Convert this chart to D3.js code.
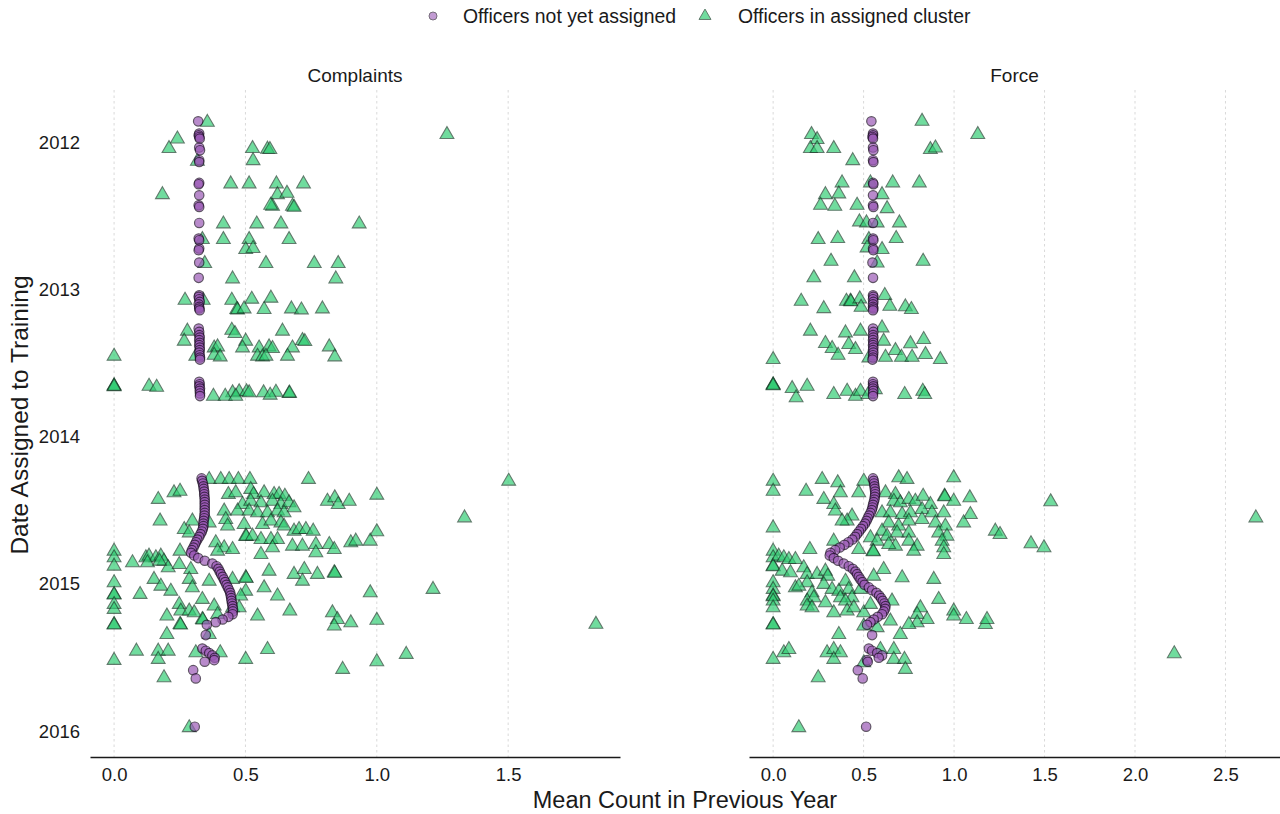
<!DOCTYPE html>
<html>
<head>
<meta charset="utf-8">
<script src="https://cdnjs.cloudflare.com/ajax/libs/d3/7.8.5/d3.min.js"></script>
<style>
  body { margin: 0; background: #ffffff; }
  text { font-family: "Liberation Sans", Arial, Helvetica, sans-serif; fill: #1a1a1a; }
</style>
</head>
<body>
<div id="chart"></div>
<script>
// ---- data ----
const panelNames = ['Complaints', 'Force'];
const yearTicks = [2012, 2013, 2014, 2015, 2016];
const complaintsTicks = [0, 0.5, 1, 1.5];
const forceTicks = [0, 0.5, 1, 1.5, 2, 2.5];
const legendLabels = ['Officers not yet assigned', 'Officers in assigned cluster'];

// dates (decimal years) of the "not yet assigned" means, shared by both panels
const waitingDates = [
  2011.858, 2011.941, 2011.953, 2011.964, 2011.975, 2012.036, 2012.054, 2012.122, 2012.134,
  2012.276, 2012.285, 2012.360, 2012.428, 2012.439, 2012.548, 2012.654, 2012.665, 2012.722,
  2012.733, 2012.817, 2012.921, 2013.039, 2013.050, 2013.066, 2013.084, 2013.100, 2013.118,
  2013.129, 2013.141, 2013.265, 2013.288, 2013.310, 2013.326, 2013.344, 2013.362, 2013.378,
  2013.394, 2013.412, 2013.428, 2013.446, 2013.462, 2013.476, 2013.627, 2013.643, 2013.657,
  2013.673, 2013.688, 2013.706, 2013.724,
  2014.283, 2014.299, 2014.317, 2014.336, 2014.354, 2014.372, 2014.390, 2014.408, 2014.426,
  2014.444, 2014.462, 2014.480, 2014.498, 2014.517, 2014.535, 2014.553, 2014.571, 2014.589,
  2014.607, 2014.625, 2014.643, 2014.661, 2014.679, 2014.698, 2014.716, 2014.734, 2014.752,
  2014.770, 2014.788, 2014.806, 2014.824, 2014.842, 2014.861, 2014.879, 2014.897, 2014.915,
  2014.933, 2014.951, 2014.969, 2014.987, 2015.005, 2015.023, 2015.042, 2015.060, 2015.078,
  2015.096, 2015.114, 2015.132, 2015.150, 2015.168, 2015.186, 2015.205, 2015.223, 2015.241,
  2015.259, 2015.277,
  2015.347, 2015.438, 2015.453, 2015.469, 2015.485, 2015.501, 2015.517, 2015.528, 2015.585,
  2015.641, 2015.969
];

const complaintsWaitingX = [
  0.320, 0.324, 0.322, 0.324, 0.326, 0.324, 0.327, 0.324, 0.324,
  0.324, 0.322, 0.324, 0.322, 0.324, 0.324, 0.322, 0.324, 0.324,
  0.322, 0.324, 0.322, 0.324, 0.322, 0.324, 0.326, 0.322, 0.324,
  0.324, 0.326, 0.322, 0.324, 0.324, 0.326, 0.324, 0.326, 0.324,
  0.326, 0.326, 0.324, 0.326, 0.327, 0.327, 0.324, 0.326, 0.324,
  0.327, 0.326, 0.327, 0.327,
  0.333, 0.335, 0.338, 0.340, 0.341, 0.343, 0.343, 0.344, 0.345,
  0.345, 0.345, 0.345, 0.345, 0.345, 0.344, 0.343, 0.341, 0.340,
  0.340, 0.338, 0.334, 0.329, 0.324, 0.317, 0.312, 0.307, 0.302,
  0.296, 0.293, 0.305, 0.320, 0.345, 0.374, 0.390, 0.397, 0.402,
  0.407, 0.413, 0.418, 0.423, 0.428, 0.433, 0.438, 0.442, 0.444,
  0.446, 0.447, 0.449, 0.451, 0.452, 0.452, 0.451, 0.435, 0.413,
  0.387, 0.353,
  0.349, 0.336, 0.349, 0.362, 0.374, 0.383, 0.381, 0.345, 0.301,
  0.311, 0.307
];

const forceWaitingX = [
  0.543, 0.552, 0.552, 0.549, 0.552, 0.552, 0.554, 0.552, 0.554,
  0.552, 0.554, 0.552, 0.552, 0.554, 0.552, 0.552, 0.554, 0.552,
  0.554, 0.549, 0.552, 0.552, 0.554, 0.552, 0.554, 0.552, 0.552,
  0.554, 0.552, 0.552, 0.554, 0.552, 0.554, 0.552, 0.554, 0.552,
  0.554, 0.552, 0.554, 0.552, 0.552, 0.549, 0.552, 0.552, 0.554,
  0.552, 0.554, 0.552, 0.552,
  0.552, 0.556, 0.558, 0.560, 0.562, 0.564, 0.564, 0.562, 0.560,
  0.556, 0.552, 0.549, 0.545, 0.538, 0.530, 0.523, 0.516, 0.508,
  0.497, 0.486, 0.475, 0.464, 0.453, 0.438, 0.416, 0.394, 0.368,
  0.343, 0.317, 0.313, 0.335, 0.359, 0.390, 0.418, 0.440, 0.455,
  0.464, 0.473, 0.483, 0.494, 0.505, 0.529, 0.547, 0.571, 0.586,
  0.597, 0.606, 0.615, 0.621, 0.619, 0.611, 0.602, 0.578, 0.556,
  0.538, 0.519,
  0.547, 0.529, 0.547, 0.575, 0.602, 0.584, 0.519, 0.523, 0.468,
  0.495, 0.514
];

// officers in assigned cluster: [mean count, date]
const complaintsAssigned = [
  [0.355, 2011.858], [1.267, 2011.941], [0.241, 2011.971],
  [0.209, 2012.036], [0.527, 2012.036], [0.584, 2012.040], [0.593, 2012.043],
  [0.317, 2012.122], [0.529, 2012.118],
  [0.444, 2012.276], [0.514, 2012.276], [0.618, 2012.276], [0.721, 2012.276],
  [0.184, 2012.349], [0.622, 2012.349], [0.658, 2012.340],
  [0.603, 2012.428], [0.679, 2012.428], [0.685, 2012.435], [0.596, 2012.421],
  [0.416, 2012.548], [0.543, 2012.548], [0.635, 2012.548], [0.933, 2012.548],
  [0.336, 2012.654], [0.416, 2012.654], [0.514, 2012.654], [0.666, 2012.654],
  [0.501, 2012.722], [0.529, 2012.715],
  [0.345, 2012.817], [0.578, 2012.817], [0.762, 2012.817], [0.853, 2012.817],
  [0.451, 2012.921], [0.844, 2012.921],
  [0.270, 2013.066], [0.339, 2013.066], [0.448, 2013.066], [0.524, 2013.059], [0.597, 2013.052],
  [0.467, 2013.129], [0.470, 2013.132], [0.495, 2013.125], [0.571, 2013.129], [0.675, 2013.125],
  [0.713, 2013.132], [0.793, 2013.125],
  [0.279, 2013.276], [0.448, 2013.270], [0.641, 2013.276], [0.460, 2013.292],
  [0.267, 2013.344], [0.501, 2013.344], [0.717, 2013.340], [0.726, 2013.347],
  [0.381, 2013.390], [0.394, 2013.383], [0.489, 2013.390], [0.552, 2013.390], [0.590, 2013.383],
  [0.603, 2013.394], [0.679, 2013.390], [0.819, 2013.383],
  [0.000, 2013.446], [0.311, 2013.446], [0.381, 2013.440], [0.404, 2013.451], [0.546, 2013.446],
  [0.565, 2013.451], [0.578, 2013.446], [0.660, 2013.446], [0.840, 2013.451],
  [0.000, 2013.650], [0.000, 2013.647], [0.000, 2013.653], [0.133, 2013.650], [0.162, 2013.657],
  [0.451, 2013.695], [0.476, 2013.688], [0.504, 2013.688], [0.514, 2013.695], [0.569, 2013.695],
  [0.616, 2013.691], [0.666, 2013.700], [0.668, 2013.697],
  [0.378, 2013.718], [0.423, 2013.718], [0.463, 2013.718], [0.594, 2013.711],
  // 2014 - 2016
  [0.362, 2014.283], [0.406, 2014.283], [0.438, 2014.283], [0.473, 2014.283], [0.517, 2014.283],
  [0.740, 2014.283], [1.502, 2014.295],
  [0.168, 2014.419], [0.228, 2014.374], [0.251, 2014.363], [0.435, 2014.385], [0.463, 2014.374],
  [0.520, 2014.351], [0.531, 2014.385], [0.571, 2014.374], [0.609, 2014.385], [0.628, 2014.385],
  [0.650, 2014.397], [0.812, 2014.431], [0.840, 2014.408], [0.853, 2014.453], [0.895, 2014.431],
  [1.000, 2014.390],
  [0.489, 2014.453], [0.520, 2014.431], [0.559, 2014.442], [0.603, 2014.431], [0.635, 2014.453],
  [0.666, 2014.442], [0.685, 2014.476], [0.419, 2014.498], [0.470, 2014.498], [0.514, 2014.498],
  [0.546, 2014.510], [0.584, 2014.510], [0.622, 2014.498], [0.647, 2014.510],
  [0.175, 2014.566], [0.298, 2014.566], [0.362, 2014.578], [0.425, 2014.555], [0.432, 2014.600],
  [0.495, 2014.589], [0.565, 2014.589], [0.597, 2014.566], [0.635, 2014.578], [0.647, 2014.600],
  [0.685, 2014.634], [0.704, 2014.623], [0.730, 2014.623], [0.758, 2014.634], [0.267, 2014.623],
  [0.286, 2014.646], [1.334, 2014.544], [1.000, 2014.639],
  [0.501, 2014.668], [0.503, 2014.670], [0.527, 2014.668], [0.559, 2014.691], [0.597, 2014.691],
  [0.622, 2014.691], [0.387, 2014.713], [0.419, 2014.747], [0.451, 2014.759], [0.394, 2014.770],
  [0.559, 2014.793], [0.603, 2014.747], [0.679, 2014.736], [0.717, 2014.736], [0.768, 2014.725],
  [0.768, 2014.781], [0.819, 2014.725], [0.838, 2014.759], [0.901, 2014.713], [0.920, 2014.702],
  [0.251, 2014.770], [0.975, 2014.702],
  [0.000, 2014.770], [0.000, 2014.815], [0.000, 2014.872], [0.070, 2014.849], [0.121, 2014.815],
  [0.133, 2014.804], [0.159, 2014.815], [0.178, 2014.804], [0.190, 2014.838], [0.206, 2014.883],
  [0.248, 2014.861], [0.292, 2014.895], [0.127, 2014.849], [0.173, 2014.838],
  [0.590, 2014.906], [0.685, 2014.928], [0.724, 2014.895], [0.717, 2014.974], [0.774, 2014.928],
  [0.838, 2014.917], [0.840, 2014.920], [0.286, 2014.962], [0.298, 2015.019], [0.362, 2014.974],
  [0.501, 2014.951], [0.503, 2014.955], [0.451, 2014.962], [0.152, 2014.962], [0.178, 2015.008],
  [0.216, 2015.042], [0.099, 2015.064], [0.000, 2014.985], [0.000, 2015.064], [0.000, 2015.068],
  [0.571, 2015.019], [0.622, 2015.075], [0.501, 2015.042], [0.482, 2015.075],
  [0.975, 2015.053], [1.214, 2015.030],
  [0.000, 2015.132], [0.000, 2015.166], [0.000, 2015.268], [0.000, 2015.272], [0.248, 2015.132],
  [0.254, 2015.177], [0.286, 2015.177], [0.305, 2015.189], [0.336, 2015.098], [0.381, 2015.143],
  [0.394, 2015.200], [0.451, 2015.155], [0.476, 2015.155], [0.546, 2015.211], [0.669, 2015.177],
  [0.831, 2015.189], [0.850, 2015.234], [0.838, 2015.279], [0.901, 2015.257], [0.201, 2015.211],
  [0.336, 2015.234], [0.338, 2015.238], [0.251, 2015.268], [0.253, 2015.272],
  [1.000, 2015.240], [1.834, 2015.267],
  [0.201, 2015.336], [0.362, 2015.336],
  [0.085, 2015.449], [0.168, 2015.449], [0.206, 2015.449], [0.168, 2015.505], [0.311, 2015.460],
  [0.404, 2015.460], [0.501, 2015.505], [0.584, 2015.438], [0.000, 2015.512], [0.870, 2015.573],
  [1.112, 2015.471], [1.000, 2015.521],
  [0.190, 2015.630], [0.286, 2015.969]
];

const forceAssigned = [
  [0.823, 2011.851], [1.131, 2011.941], [0.212, 2011.941], [0.243, 2011.975],
  [0.206, 2012.036], [0.243, 2012.036], [0.335, 2012.036], [0.869, 2012.043], [0.897, 2012.032],
  [0.440, 2012.118],
  [0.381, 2012.269], [0.538, 2012.269], [0.661, 2012.269], [0.808, 2012.269],
  [0.289, 2012.349], [0.363, 2012.344], [0.602, 2012.349],
  [0.262, 2012.421], [0.341, 2012.428], [0.464, 2012.421], [0.630, 2012.444],
  [0.477, 2012.534], [0.516, 2012.541], [0.575, 2012.541], [0.698, 2012.541],
  [0.249, 2012.654], [0.357, 2012.647], [0.529, 2012.654], [0.680, 2012.647],
  [0.519, 2012.711], [0.602, 2012.722],
  [0.320, 2012.801], [0.575, 2012.813], [0.829, 2012.801],
  [0.225, 2012.914], [0.449, 2012.914],
  [0.155, 2013.073], [0.405, 2013.073], [0.427, 2013.073], [0.430, 2013.077], [0.479, 2013.057],
  [0.617, 2013.034],
  [0.280, 2013.123], [0.486, 2013.114], [0.645, 2013.107], [0.731, 2013.111], [0.764, 2013.129],
  [0.206, 2013.276], [0.400, 2013.288], [0.483, 2013.276], [0.602, 2013.254],
  [0.289, 2013.360], [0.326, 2013.394], [0.418, 2013.367], [0.455, 2013.401], [0.611, 2013.344],
  [0.676, 2013.408], [0.759, 2013.362], [0.832, 2013.333],
  [0.359, 2013.440], [0.529, 2013.458], [0.621, 2013.453], [0.709, 2013.453], [0.768, 2013.453],
  [0.842, 2013.435], [0.924, 2013.469], [0.000, 2013.469],
  [0.000, 2013.643], [0.000, 2013.640], [0.000, 2013.647], [0.105, 2013.666], [0.188, 2013.650],
  [0.127, 2013.729], [0.335, 2013.706], [0.409, 2013.684], [0.455, 2013.718], [0.483, 2013.684],
  [0.525, 2013.706], [0.565, 2013.673], [0.727, 2013.706], [0.827, 2013.684], [0.838, 2013.706],
  // 2014 - 2016
  [0.000, 2014.295], [0.000, 2014.363], [0.271, 2014.283], [0.357, 2014.306], [0.182, 2014.363],
  [0.372, 2014.374], [0.473, 2014.374], [0.501, 2014.295], [0.694, 2014.272], [0.740, 2014.283],
  [0.998, 2014.272], [0.621, 2014.374], [0.676, 2014.385],
  [0.280, 2014.419], [0.335, 2014.453], [0.344, 2014.498], [0.667, 2014.431], [0.703, 2014.442],
  [0.750, 2014.419], [0.786, 2014.431], [0.829, 2014.397], [0.869, 2014.453], [0.947, 2014.397],
  [0.949, 2014.401], [0.998, 2014.431], [1.087, 2014.408], [1.534, 2014.435],
  [0.602, 2014.510], [0.648, 2014.510], [0.713, 2014.521], [0.759, 2014.510], [0.823, 2014.487],
  [0.878, 2014.510], [0.943, 2014.510], [1.090, 2014.521], [0.436, 2014.532], [0.409, 2014.566],
  [0.381, 2014.566],
  [0.000, 2014.612], [0.639, 2014.578], [0.694, 2014.600], [0.750, 2014.566], [0.823, 2014.555],
  [0.897, 2014.578], [0.952, 2014.600], [1.053, 2014.578], [1.228, 2014.634], [2.668, 2014.544],
  [0.602, 2014.634], [0.630, 2014.668], [0.685, 2014.646], [0.750, 2014.646], [0.915, 2014.646],
  [0.961, 2014.668], [0.538, 2014.679], [1.254, 2014.657],
  [0.335, 2014.702], [0.575, 2014.702], [0.676, 2014.736], [0.750, 2014.702], [0.796, 2014.736],
  [0.934, 2014.702], [0.943, 2014.747], [0.203, 2014.759], [0.473, 2014.759], [0.552, 2014.770],
  [0.554, 2014.774], [0.777, 2014.770], [0.943, 2014.793], [0.639, 2014.725],
  [1.425, 2014.720], [1.497, 2014.747],
  [0.000, 2014.770], [0.000, 2014.815], [0.000, 2014.872], [0.000, 2014.876], [0.031, 2014.804],
  [0.059, 2014.815], [0.087, 2014.827], [0.123, 2014.827], [0.050, 2014.906], [0.096, 2014.917],
  [0.169, 2014.883], [0.188, 2014.928], [0.243, 2014.928], [0.289, 2014.906], [0.302, 2014.940],
  [0.611, 2014.895],
  [0.000, 2014.985], [0.000, 2015.030], [0.000, 2015.075], [0.000, 2015.079], [0.123, 2015.019],
  [0.188, 2014.985], [0.142, 2015.008], [0.280, 2014.996], [0.326, 2015.030], [0.363, 2015.042],
  [0.400, 2014.974], [0.418, 2015.030], [0.483, 2015.030], [0.556, 2014.940], [0.713, 2014.951],
  [0.888, 2014.962], [0.436, 2015.087], [0.372, 2015.087], [0.215, 2015.053], [0.188, 2015.109],
  [0.225, 2015.087],
  [0.000, 2015.109], [0.000, 2015.155], [0.000, 2015.268], [0.000, 2015.272], [0.188, 2015.143],
  [0.215, 2015.155], [0.289, 2015.121], [0.335, 2015.189], [0.400, 2015.109], [0.409, 2015.177],
  [0.446, 2015.155], [0.501, 2015.189], [0.538, 2015.132], [0.657, 2015.109], [0.814, 2015.155],
  [0.915, 2015.098], [0.998, 2015.177], [0.998, 2015.211], [1.068, 2015.234], [1.173, 2015.268],
  [1.182, 2015.234], [0.796, 2015.200], [0.851, 2015.234], [0.796, 2015.257], [0.750, 2015.268],
  [0.501, 2015.279], [0.575, 2015.290], [0.648, 2015.245],
  [0.363, 2015.336], [0.703, 2015.336],
  [0.000, 2015.505], [0.059, 2015.460], [0.087, 2015.438], [0.298, 2015.460], [0.335, 2015.438],
  [0.372, 2015.460], [0.335, 2015.505], [0.501, 2015.528], [0.667, 2015.438], [0.667, 2015.505],
  [0.726, 2015.505], [0.731, 2015.573], [0.593, 2015.438], [2.217, 2015.467],
  [0.249, 2015.630], [0.142, 2015.969]
];

// ---- layout ----
const W = 1280, H = 814;
const plotTop = 90, plotBottom = 757;
const fontFamily = '"Liberation Sans", Arial, Helvetica, sans-serif';
const purple = '#9b59b6', purpleEdge = '#1c0d24';
const green = '#2ecc71', greenEdge = '#163d27';

const svg = d3.select('#chart').append('svg')
  .attr('width', W)
  .attr('height', H)
  .style('font-family', fontFamily);

const panels = [
  {
    name: panelNames[0], range: [90, 620], ticks: complaintsTicks,
    assigned: complaintsAssigned,
    waiting: waitingDates.map((d, i) => [complaintsWaitingX[i], d])
  },
  {
    name: panelNames[1], range: [749, 1280], ticks: forceTicks,
    assigned: forceAssigned,
    waiting: waitingDates.map((d, i) => [forceWaitingX[i], d])
  }
];

// shared y scale (5% expansion, earliest date at the top)
const allDates = waitingDates.concat(complaintsAssigned.map(d => d[1]), forceAssigned.map(d => d[1]));
const yExt = d3.extent(allDates);
const yPad = (yExt[1] - yExt[0]) * 0.05;
const y = d3.scaleLinear()
  .domain([yExt[0] - yPad, yExt[1] + yPad])
  .range([plotTop, plotBottom]);

const triangle = d3.symbol().type(d3.symbolTriangle).size(82);

panels.forEach(p => {
  const xs = p.assigned.map(d => d[0]).concat(p.waiting.map(d => d[0]));
  const xExt = d3.extent(xs);
  const xPad = (xExt[1] - xExt[0]) * 0.05;
  const x = d3.scaleLinear()
    .domain([xExt[0] - xPad, xExt[1] + xPad])
    .range(p.range);

  const g = svg.append('g');

  // vertical dashed grid
  g.append('g').selectAll('line')
    .data(p.ticks)
    .join('line')
    .attr('x1', d => x(d)).attr('x2', d => x(d))
    .attr('y1', plotTop).attr('y2', plotBottom)
    .attr('stroke', '#d9d9d9')
    .attr('stroke-width', 1)
    .attr('stroke-dasharray', '2.5,3');

  // strip label
  g.append('text')
    .attr('x', (p.range[0] + p.range[1]) / 2)
    .attr('y', 82)
    .attr('text-anchor', 'middle')
    .attr('font-size', '19px')
    .text(p.name);

  // assigned officers (triangles)
  g.append('g').selectAll('path')
    .data(p.assigned)
    .join('path')
    .attr('d', triangle)
    .attr('transform', d => `translate(${x(d[0])},${y(d[1]) + 1})`)
    .attr('fill', green)
    .attr('stroke', greenEdge)
    .attr('stroke-width', 1.1)
    .attr('opacity', 0.68);

  // not yet assigned (circles)
  g.append('g').selectAll('circle')
    .data(p.waiting)
    .join('circle')
    .attr('cx', d => x(d[0]))
    .attr('cy', d => y(d[1]))
    .attr('r', 4.7)
    .attr('fill', purple)
    .attr('stroke', purpleEdge)
    .attr('stroke-width', 1.2)
    .attr('opacity', 0.7);

  // x axis
  const xAxis = g.append('g')
    .attr('transform', `translate(0,${plotBottom})`)
    .call(d3.axisBottom(x)
      .tickValues(p.ticks)
      .tickFormat(d3.format('.1f'))
      .tickSize(0)
      .tickSizeOuter(0)
      .tickPadding(11));
  xAxis.select('.domain').attr('stroke', '#1a1a1a').attr('stroke-width', 1.3);
  xAxis.selectAll('.tick text')
    .attr('font-size', '18.5px')
    .attr('font-family', fontFamily)
    .attr('fill', '#1a1a1a');
});

// y axis (labels only)
const yAxis = svg.append('g')
  .attr('transform', `translate(90,0)`)
  .call(d3.axisLeft(y)
    .tickValues(yearTicks)
    .tickFormat(d3.format('d'))
    .tickSize(0)
    .tickPadding(10));
yAxis.select('.domain').remove();
yAxis.selectAll('.tick text')
  .attr('font-size', '18.5px')
  .attr('font-family', fontFamily)
  .attr('fill', '#1a1a1a');

// axis titles
svg.append('text')
  .attr('x', 685)
  .attr('y', 808)
  .attr('text-anchor', 'middle')
  .attr('font-size', '23.5px')
  .text('Mean Count in Previous Year');

svg.append('text')
  .attr('transform', 'translate(28,415) rotate(-90)')
  .attr('text-anchor', 'middle')
  .attr('font-size', '24.5px')
  .text('Date Assigned to Training');

// legend
const legend = svg.append('g').attr('transform', 'translate(0,16)');
legend.append('circle')
  .attr('cx', 433).attr('cy', 0).attr('r', 4)
  .attr('fill', purple).attr('stroke', purpleEdge).attr('opacity', 0.6);
legend.append('text')
  .attr('x', 463).attr('y', 7)
  .attr('font-size', '19.4px')
  .text(legendLabels[0]);
legend.append('path')
  .attr('d', d3.symbol().type(d3.symbolTriangle).size(62))
  .attr('transform', 'translate(705,0)')
  .attr('fill', green).attr('stroke', greenEdge).attr('opacity', 0.68);
legend.append('text')
  .attr('x', 738).attr('y', 7)
  .attr('font-size', '19.4px')
  .text(legendLabels[1]);
</script>
</body>
</html>
